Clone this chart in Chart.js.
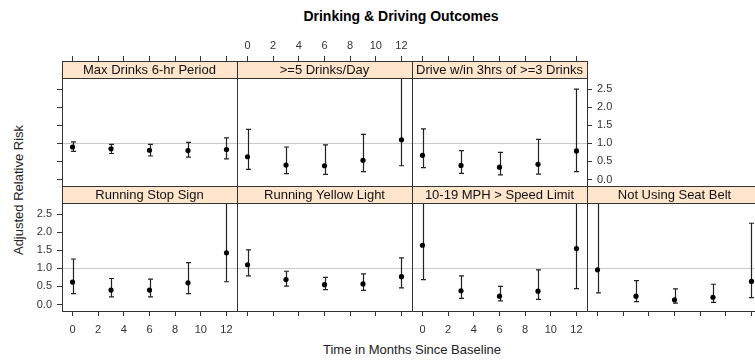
<!DOCTYPE html>
<html lang="en">
<head>
    <meta charset="UTF-8">
    <title>Drinking & Driving Outcomes</title>
    <script src="https://cdn.jsdelivr.net/npm/chart.js"></script>
    <style>
        * {
            box-sizing: border-box;
            margin: 0;
            padding: 0;
        }

        body {
            width: 755px;
            height: 360px;
            overflow: hidden;
            background: #fff;
            position: relative;
            font-family: 'Liberation Sans', Arial, sans-serif;
            color: #000;
        }

        canvas {
            position: absolute;
        }

        .main-title {
            position: absolute;
            top: 8px;
            left: 201px;
            width: 400px;
            text-align: center;
            font-size: 14px;
            font-weight: bold;
        }

        .x-title {
            position: absolute;
            top: 342px;
            left: 212px;
            width: 400px;
            text-align: center;
            font-size: 13px;
            color: #222;
        }

        .y-title {
            position: absolute;
            left: 18px;
            top: 190px;
            transform: translate(-50%, -50%) rotate(-90deg);
            white-space: nowrap;
            font-size: 13px;
            color: #222;
        }
    </style>
</head>
<body>
    <div class="main-title">Drinking &amp; Driving Outcomes</div>
    <div class="y-title">Adjusted Relative Risk</div>
    <div class="x-title">Time in Months Since Baseline</div>
    <div id="panels"></div>

    <script>
        // data
        const months = [0, 3, 6, 9, 12];
        const outcomes = [
            'Max Drinks 6-hr Period',
            '>=5 Drinks/Day',
            'Drive w/in 3hrs of >=3 Drinks',
            'Running Stop Sign',
            'Running Yellow Light',
            '10-19 MPH > Speed Limit',
            'Not Using Seat Belt'
        ];
        const riskEst = [
            [0.90, 0.85, 0.81, 0.80, 0.83],
            [0.63, 0.40, 0.38, 0.53, 1.10],
            [0.67, 0.39, 0.34, 0.42, 0.79],
            [0.62, 0.40, 0.40, 0.60, 1.43],
            [1.10, 0.69, 0.55, 0.57, 0.77],
            [1.64, 0.38, 0.23, 0.37, 1.55],
            [0.96, 0.23, 0.13, 0.20, 0.64]
        ];
        const riskLow = [
            [0.78, 0.72, 0.65, 0.62, 0.57],
            [0.28, 0.16, 0.14, 0.22, 0.38],
            [0.33, 0.17, 0.13, 0.15, 0.22],
            [0.30, 0.21, 0.21, 0.30, 0.63],
            [0.79, 0.51, 0.41, 0.39, 0.46],
            [0.69, 0.17, 0.10, 0.14, 0.44],
            [0.32, 0.08, 0.04, 0.06, 0.19]
        ];
        const riskHigh = [
            [1.04, 0.97, 0.97, 1.03, 1.15],
            [1.39, 0.90, 0.96, 1.25, 3.40],
            [1.40, 0.80, 0.75, 1.11, 2.50],
            [1.26, 0.72, 0.70, 1.16, 3.30],
            [1.51, 0.92, 0.75, 0.85, 1.29],
            [3.90, 0.79, 0.50, 0.96, 5.40],
            [2.90, 0.66, 0.43, 0.56, 2.25]
        ];
        const xTicks = [0, 2, 4, 6, 8, 10, 12];
        const yTicks = [0, 0.5, 1, 1.5, 2, 2.5];
        const yTickLabels = ['0.0', '0.5', '1.0', '1.5', '2.0', '2.5'];
        const refValue = 1;

        // layout
        const xMin = -0.82, xMax = 12.82;
        const yMin = -0.18, yPlotMax = 2.81;
        const colLeft = [62, 237, 412, 587];
        const rowTop = [61, 186];
        const panelW = 175, stripH = 17, plotH = 108;
        const M = 40;
        const yMax = yPlotMax + (yPlotMax - yMin) * stripH / plotH;
        const stripFill = '#ffe5cc';
        const lineCol = '#333';
        const font = "'Liberation Sans', Arial, sans-serif";

        // 0 = nothing, 1 = ticks, 2 = ticks + labels
        const panels = [
            { col: 0, row: 0, left: 1, top: 1 },
            { col: 1, row: 0, top: 2 },
            { col: 2, row: 0, top: 1, right: 2 },
            { col: 0, row: 1, left: 2, bottom: 2 },
            { col: 1, row: 1, bottom: 1 },
            { col: 2, row: 1, bottom: 2 },
            { col: 3, row: 1, bottom: 1, right: 1 }
        ];
        const labelPad = { bottom: 7, top: 3, left: 5, right: 5 };

        const panelDeco = {
            id: 'panelDeco',
            beforeDatasetsDraw(chart, args, opts) {
                const { ctx, chartArea: a, scales } = chart;
                const p = opts.panel;
                const plotTop = a.top + stripH;
                ctx.save();
                // reference line
                const yr = Math.round(scales.y.getPixelForValue(refValue)) + 0.5;
                ctx.strokeStyle = '#c8c8c8';
                ctx.lineWidth = 1;
                ctx.beginPath();
                ctx.moveTo(a.left, yr);
                ctx.lineTo(a.right, yr);
                ctx.stroke();
                // error bars
                ctx.strokeStyle = '#222';
                ctx.lineWidth = 1.2;
                months.forEach((m, i) => {
                    const px = Math.round(scales.x.getPixelForValue(m)) + 0.5;
                    const lo = scales.y.getPixelForValue(riskLow[p][i]);
                    const hi = scales.y.getPixelForValue(riskHigh[p][i]);
                    const top = Math.max(hi, plotTop);
                    ctx.beginPath();
                    ctx.moveTo(px, lo);
                    ctx.lineTo(px, top);
                    ctx.moveTo(px - 2.5, lo);
                    ctx.lineTo(px + 2.5, lo);
                    if (hi >= plotTop) {
                        ctx.moveTo(px - 2.5, hi);
                        ctx.lineTo(px + 2.5, hi);
                    }
                    ctx.stroke();
                });
                ctx.restore();
            },
            afterDraw(chart, args, opts) {
                const { ctx, chartArea: a } = chart;
                ctx.save();
                ctx.fillStyle = stripFill;
                ctx.fillRect(a.left, a.top, a.right - a.left, stripH);
                ctx.strokeStyle = lineCol;
                ctx.lineWidth = 1;
                ctx.strokeRect(a.left + 0.5, a.top + 0.5, a.right - a.left, stripH);
                ctx.strokeRect(a.left + 0.5, a.top + 0.5, a.right - a.left, a.bottom - a.top);
                ctx.fillStyle = '#111';
                ctx.font = '13px ' + font;
                ctx.textAlign = 'center';
                ctx.textBaseline = 'middle';
                ctx.fillText(outcomes[opts.panel], (a.left + a.right) / 2, a.top + stripH / 2 + 1);
                ctx.restore();
            }
        };

        function axis(pos, mode, isX) {
            return {
                type: 'linear',
                position: pos,
                min: isX ? xMin : yMin,
                max: isX ? xMax : yMax,
                display: true,
                border: { display: false },
                grid: {
                    display: !!mode,
                    drawOnChartArea: false,
                    drawTicks: true,
                    tickLength: 5,
                    tickColor: lineCol,
                    tickWidth: 1
                },
                ticks: {
                    display: mode === 2,
                    color: '#333',
                    padding: labelPad[pos],
                    maxRotation: 0,
                    autoSkip: false,
                    font: { size: 11, family: font },
                    callback: (v, i) => isX ? String(xTicks[i]) : yTickLabels[i]
                },
                afterBuildTicks: s => {
                    s.ticks = (isX ? xTicks : yTicks).map(v => ({ value: v }));
                },
                afterFit: s => {
                    if (isX) s.height = M; else s.width = M;
                }
            };
        }

        const holder = document.getElementById('panels');
        panels.forEach((pn, p) => {
            const cv = document.createElement('canvas');
            const w = panelW + 2 * M, h = stripH + plotH + 2 * M;
            cv.width = w;
            cv.height = h;
            cv.style.width = w + 'px';
            cv.style.height = h + 'px';
            cv.style.left = (colLeft[pn.col] - M) + 'px';
            cv.style.top = (rowTop[pn.row] - M) + 'px';
            holder.appendChild(cv);

            new Chart(cv, {
                type: 'scatter',
                data: {
                    datasets: [{
                        data: months.map((m, i) => ({ x: m, y: riskEst[p][i] })),
                        pointRadius: 2.6,
                        pointBackgroundColor: '#000',
                        pointBorderWidth: 0,
                        xAxisID: 'x',
                        yAxisID: 'y'
                    }]
                },
                options: {
                    responsive: false,
                    animation: false,
                    devicePixelRatio: 1,
                    events: [],
                    layout: { padding: 0 },
                    scales: {
                        x: axis('bottom', pn.bottom || 0, true),
                        x2: axis('top', pn.top || 0, true),
                        y: axis('left', pn.left || 0, false),
                        y2: axis('right', pn.right || 0, false)
                    },
                    plugins: {
                        legend: { display: false },
                        tooltip: { enabled: false },
                        panelDeco: { panel: p }
                    }
                },
                plugins: [panelDeco]
            });
        });
    </script>
</body>
</html>
